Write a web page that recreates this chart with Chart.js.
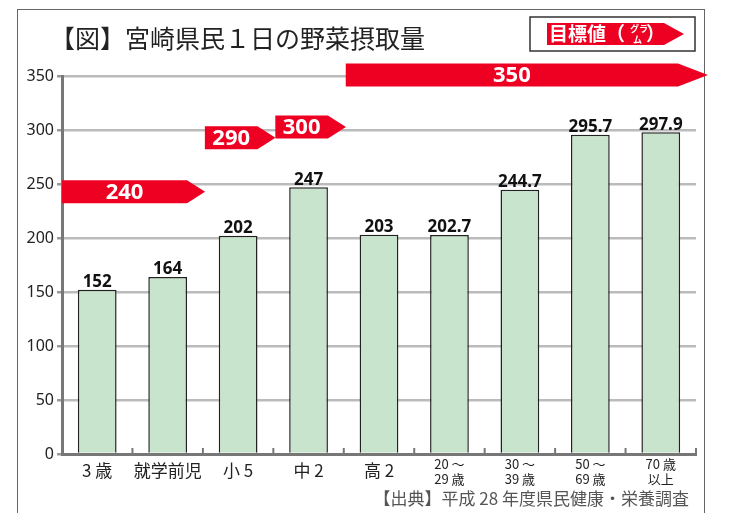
<!DOCTYPE html>
<html lang="ja">
<head>
<meta charset="utf-8">
<script src="https://cdn.jsdelivr.net/npm/chart.js@4"></script>
<style>
  html, body { margin: 0; padding: 0; background: #fff; }
  #wrap { position: relative; width: 738px; height: 513px; overflow: hidden; }
  #frame { position: absolute; left: 17px; top: 9px; width: 686px; height: 540px; border: 1px solid #666; }
  canvas { position: absolute; left: 0; top: 0; }
</style>
</head>
<body>
<div id="wrap">
  <div id="frame"></div>
  <canvas id="chart" width="738" height="513"></canvas>
</div>
<script>
// 年代区分
const labels = ['3 歳', '就学前児', '小 5', '中 2', '高 2', ['20 ～', '29 歳'], ['30 ～', '39 歳'], ['50 ～', '69 歳'], ['70 歳', '以上']];
// 野菜摂取量（グラム）
const intake = [152, 164, 202, 247, 203, 202.7, 244.7, 295.7, 297.9];
const intakeText = ['152', '164', '202', '247', '203', '202.7', '244.7', '295.7', '297.9'];
// 目標値：開始区分, 終了区分, 値
const targetFrom = [0, 2, 3, 4];
const targetTo = [1, 2, 3, 8];
const targetValue = [240, 290, 300, 350];
const yTicks = [0, 50, 100, 150, 200, 250, 300, 350];

const RED = '#ee0022';
const JP = '"Noto Sans CJK JP", "Noto Sans", sans-serif';
const NUM = '"Noto Sans", "DejaVu Sans", sans-serif';

// 赤い矢印の帯
function drawBanner(ctx, x1, x2, yc, h, tip, text, fontSize) {
  ctx.save();
  ctx.fillStyle = RED;
  ctx.beginPath();
  ctx.moveTo(x1, yc - h / 2);
  ctx.lineTo(x2 - tip, yc - h / 2);
  ctx.lineTo(x2, yc);
  ctx.lineTo(x2 - tip, yc + h / 2);
  ctx.lineTo(x1, yc + h / 2);
  ctx.closePath();
  ctx.fill();
  if (text) {
    ctx.fillStyle = '#fff';
    ctx.font = 'bold ' + fontSize + 'px ' + NUM;
    ctx.textAlign = 'center';
    ctx.textBaseline = 'middle';
    ctx.fillText(text, (x1 + x2 - tip) / 2, yc + 1);
  }
  ctx.restore();
}

const extras = {
  id: 'extras',
  afterDatasetsDraw(chart) {
    const ctx = chart.ctx;
    const x = chart.scales.x;
    const y = chart.scales.y;
    const half = (x.getPixelForValue(1) - x.getPixelForValue(0)) / 2;
    const bottom = y.getPixelForValue(0);

    // x軸の目盛り（上向き）
    ctx.save();
    ctx.strokeStyle = '#777';
    ctx.lineWidth = 2;
    for (let i = 0; i <= labels.length; i++) {
      const px = x.getPixelForValue(i) - half;
      ctx.beginPath();
      ctx.moveTo(px, bottom);
      ctx.lineTo(px, bottom - 6);
      ctx.stroke();
    }
    ctx.restore();

    // x軸ラベル
    ctx.save();
    ctx.fillStyle = '#222';
    ctx.textAlign = 'center';
    ctx.textBaseline = 'middle';
    labels.forEach((lab, i) => {
      const px = x.getPixelForValue(i);
      if (Array.isArray(lab)) {
        ctx.font = '13px ' + JP;
        ctx.fillText(lab[0], px, bottom + 10);
        ctx.fillText(lab[1], px, bottom + 25);
      } else {
        ctx.font = '17px ' + JP;
        ctx.fillText(lab, px, bottom + 17);
      }
    });
    ctx.restore();

    // 数値ラベル
    const meta = chart.getDatasetMeta(0);
    ctx.save();
    ctx.fillStyle = '#111';
    ctx.font = 'bold 17px ' + NUM;
    ctx.textAlign = 'center';
    ctx.textBaseline = 'bottom';
    meta.data.forEach((bar, i) => {
      ctx.fillText(intakeText[i], bar.x, bar.y + 1);
    });
    ctx.restore();

    // 目標値の帯
    targetValue.forEach((v, i) => {
      const x1 = x.getPixelForValue(targetFrom[i]) - half;
      const x2 = x.getPixelForValue(targetTo[i]) + half;
      const last = i === targetValue.length - 1;
      const body = last ? x2 - 18 : x2 - half * 0.45;
      const tip = last ? 30 : 18;
      const yc = y.getPixelForValue(v) - (last ? 1 : 3);
      drawBanner(ctx, x1 + (i === 0 ? 0 : 2), body + tip, yc, 23, tip, String(v), 22);
    });

    // タイトル
    ctx.save();
    ctx.fillStyle = '#222';
    ctx.font = '25px ' + JP;
    ctx.textAlign = 'left';
    ctx.textBaseline = 'middle';
    ctx.fillText('【図】宮崎県民１日の野菜摂取量', 50, 38);
    ctx.restore();

    // 凡例ボックス
    ctx.save();
    ctx.strokeStyle = '#333';
    ctx.lineWidth = 1.5;
    ctx.strokeRect(530, 17, 165, 34);
    drawBanner(ctx, 547, 684, 34, 22, 20, '', 0);
    ctx.fillStyle = '#fff';
    ctx.font = 'bold 19px ' + JP;
    ctx.textBaseline = 'middle';
    ctx.textAlign = 'left';
    ctx.fillText('目標値（', 549, 34);
    ctx.font = 'bold 9px ' + JP;
    ctx.fillText('グラ', 630, 29);
    ctx.fillText('ム', 633, 40);
    ctx.font = 'bold 19px ' + JP;
    ctx.fillText('）', 646, 34);
    ctx.restore();

    // 出典
    ctx.save();
    ctx.fillStyle = '#555';
    ctx.font = '17px ' + JP;
    ctx.textAlign = 'right';
    ctx.textBaseline = 'middle';
    ctx.fillText('【出典】平成 28 年度県民健康・栄養調査', 689, 499);
    ctx.restore();
  }
};

new Chart(document.getElementById('chart'), {
  type: 'bar',
  data: {
    labels: labels,
    datasets: [{
      data: intake,
      backgroundColor: '#c9e4cc',
      borderColor: '#222',
      borderWidth: 1.5,
      barPercentage: 0.55,
      categoryPercentage: 1.0
    }]
  },
  options: {
    responsive: false,
    animation: false,
    layout: { padding: { top: 76, right: 42, left: 0, bottom: 0 } },
    plugins: { legend: { display: false }, tooltip: { enabled: false } },
    scales: {
      x: {
        grid: { display: false },
        border: { color: '#777', width: 3 },
        afterFit(scale) { scale.height = 59; },
        ticks: { display: false }
      },
      y: {
        min: 0,
        max: 350,
        afterFit(scale) { scale.width = 62; },
        afterBuildTicks(scale) { scale.ticks = yTicks.map(v => ({ value: v })); },
        border: { color: '#777', width: 3 },
        grid: { color: '#bbb', lineWidth: 2.5, tickLength: 5, tickColor: '#999' },
        ticks: {
          color: '#222',
          padding: 3,
          font: { family: NUM, size: 16 }
        }
      }
    }
  },
  plugins: [extras]
});
</script>
</body>
</html>
